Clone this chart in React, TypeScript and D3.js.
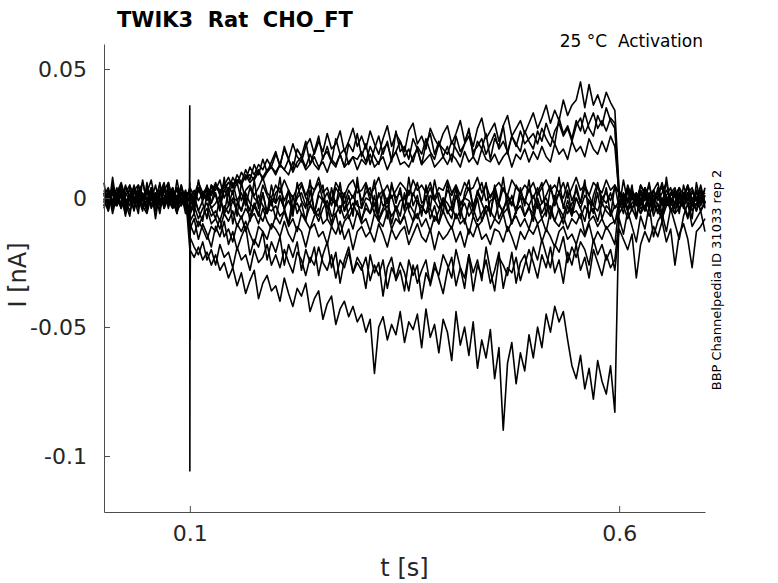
import React, { useEffect, useRef } from 'react';
import * as d3 from 'd3';

// current traces in pA, sampled every 5 ms from 0 to 0.7 s (141 samples)
const sampleTimes = d3.range(0, 141).map(i => +(i * 0.005).toFixed(3));

const baseA = [
    3, -2, 5, 0, -3, 4, 1, -4, 2, 6, -1, 3, -3, 1, 5, -2, 0, 4, -3, 2,
    1, -3, 4, 0, 5, -2, 2, -4, 3, 1, 6, -1, 2, -3, 4, 0, -2, 5, 1, -3,
    2, 4, -1, 3, -4, 1, 5, 0, -2, 3, 6, -1, 2, -3, 4, 1, -2, 3, 0, 5,
    -1, 2, 4, -3, 1, 3, -2, 5, 0, 2, -4, 3, 1, 6, -2, 0, 4, -1, 2, -3,
    3, 1, 5, -2, 0, 4, -3, 2, 6, -1, 1, 3, -2, 4, 0, -3, 5, 2, -1, 3,
    0, 4, -2, 1, 5, -3, 2, 0, 6, -1, 3, -2, 4, 1, -3, 5, 0, 2, -1, 4,
    2, -3, 5, 0, 1, -2, 4, -1, 3, 6, -2, 1, 4, -3, 2, 0, 5, -1, 3, -2, 1
];
const baseB = [
    -1, -5, 2, -3, 1, -6, 0, -2, 3, -4, -1, 2, -5, 0, -3, 1, -4, -2, 2, -6,
    -3, 0, -5, -1, 2, -4, -2, 1, -6, -3, 0, -1, -5, 2, -2, -4, 1, -3, -6, 0,
    -2, 1, -4, -1, -5, 0, 2, -3, -2, -6, 1, -1, -4, 0, -3, 2, -5, -2, 1, -3,
    -4, 0, -1, -6, 2, -3, -2, 1, -5, -1, 0, -4, 2, -2, -3, -6, 1, -1, -4, 0,
    -2, -5, 1, -3, 0, -1, -4, 2, -2, -6, -1, 0, -3, -5, 1, -2, -4, 0, -1, -3,
    1, -4, -2, 0, -5, -1, 2, -3, -6, -2, 0, -4, 1, -1, -3, -5, 0, -2, 2, -4,
    -1, -3, 0, -5, 2, -2, -4, 1, -1, -6, 0, -3, -2, 1, -4, -1, 2, -5, -2, 0, -3
];
const baseC = [
    -3, 1, -4, -2, 3, -1, -5, 0, 2, -3, -6, 1, -2, -4, 0, 3, -1, -5, -2, 1,
    -6, -3, -8, -4, -2, -7, -5, -9, -3, -6, -1, -5, -8, -4, -7, -2, -6, -9, -4, -5,
    -3, -7, -5, -10, -4, -2, -6, -8, -3, -5, -9, -4, -1, -7, -6, -3, -8, -5, -2, -6,
    -8, -4, -6, -2, -9, -5, -3, -7, -4, -10, -6, -2, -5, -8, -3, -6, -4, -9, -5, -1,
    -6, -3, -8, -5, -2, -7, -4, -9, -6, -3, -5, -8, -2, -6, -4, -10, -5, -3, -7, -4,
    -6, -2, -8, -5, -3, -9, -4, -7, -1, -6, -5, -8, -3, -6, -4, -9, -2, -5, -7, -3,
    -4, -1, -5, -2, 0, -4, -3, 1, -2, -5, -1, -3, 0, -4, -2, 2, -3, -1, -5, 0, -2
];
const baseD = [
    1, 4, -2, 2, 6, 0, -3, 3, 5, -1, 2, 7, -2, 1, 4, -4, 3, 0, 5, -1,
    4, 1, 6, 2, -1, 5, 3, 7, 0, 4, 2, 6, -1, 3, 5, 1, 4, 8, 2, 0,
    5, 2, 7, 3, 0, 4, 6, 1, 5, 3, 8, 2, 4, -1, 6, 3, 1, 5, 7, 2,
    3, 6, 1, 4, 8, 2, 5, 0, 3, 6, 4, 1, 7, 3, 5, 2, 6, 0, 4, 3,
    7, 2, 5, 1, 6, 3, 4, 8, 2, 5, 0, 4, 6, 3, 1, 7, 4, 2, 5, 3,
    6, 1, 4, 7, 3, 5, 2, 6, 0, 4, 8, 3, 5, 1, 6, 4, 2, 7, 3, 5,
    2, -1, 4, 1, -2, 3, 0, 5, -1, 2, 4, -2, 1, 3, 0, -3, 2, 4, -1, 1, 3
];
const baseE = [
    -2, 2, -4, 0, 3, -3, 1, -5, 2, -1, -4, 3, 0, -2, 4, -3, 1, -6, 2, -1,
    -9, -6, -11, -7, -4, -10, -8, -12, -6, -9, -5, -11, -7, -13, -8, -6, -10, -4, -9, -12,
    -7, -10, -5, -11, -8, -13, -6, -9, -12, -7, -4, -10, -8, -11, -6, -14, -9, -7, -12, -5,
    -10, -8, -13, -6, -9, -11, -5, -12, -8, -10, -7, -14, -9, -6, -11, -8, -13, -7, -10, -5,
    -9, -12, -6, -10, -8, -14, -7, -11, -9, -5, -12, -8, -10, -6, -13, -9, -7, -11, -8, -12,
    -6, -10, -8, -13, -5, -9, -11, -7, -12, -8, -10, -6, -14, -9, -7, -11, -8, -12, -10, -9,
    -6, -3, -8, -4, -1, -6, -3, -7, -2, -5, -8, -3, -1, -6, -4, -2, -7, -3, 0, -5, -2
];
const baseF = [
    6, -5, 8, -3, 2, -7, 5, 0, -6, 7, -2, 4, -8, 3, -4, 6, -1, -6, 5, -3,
    4, -6, 7, -2, -8, 5, 1, -5, 8, -3, 3, -7, 6, -1, -5, 7, -4, 2, -6, 5,
    -2, 8, -5, 3, -7, 6, -1, -4, 7, -6, 2, 5, -8, 4, -3, 6, -5, 1, -7, 8,
    -4, 5, -1, 7, -6, 3, -8, 6, -2, 4, -5, 8, -3, 1, -7, 5, -4, 7, -1, -6,
    6, -3, 4, -8, 2, 7, -5, 3, -1, 6, -7, 5, -2, 8, -4, 1, -6, 4, -3, 7,
    -5, 2, 6, -7, 4, -1, 8, -4, 3, -6, 5, -2, 7, -8, 1, 6, -3, 4, -7, 5,
    -4, 7, -2, 5, -8, 3, -1, 6, -5, 4, -7, 8, -3, 2, -6, 5, -1, -8, 6, -2, 4
];
const baseG = [
    -4, 3, -6, 1, 5, -2, -7, 4, 0, -5, 6, -3, 2, -6, 4, -1, -4, 7, -2, 3,
    -7, 1, -5, -9, 2, -4, -8, 0, -6, 3, -10, -2, -5, 1, -9, -3, -7, 2, -6, -1,
    -8, 0, -4, -10, 1, -6, -2, -9, 3, -5, -7, 0, -3, -10, -1, -6, 2, -8, -4, -1,
    -9, -2, -6, 1, -8, -4, 0, -10, -3, -7, 2, -5, -9, -1, -6, 1, -8, -3, -10, 0,
    -5, -8, 1, -4, -10, -2, -7, 0, -9, -3, -6, 2, -8, -4, -1, -10, -5, 1, -7, -3,
    -9, 0, -6, -2, -8, 1, -5, -10, -3, -7, 0, -4, -9, -1, -6, 2, -8, -3, -5, -10,
    -1, -6, 3, -4, -8, 0, -5, 2, -7, -2, -9, 1, -4, -6, 2, -3, -8, 0, -5, 3, -4
];
const outwardA = [
    2, -3, 4, 1, -2, 5, 0, -4, 3, 1, -1, 4, -2, 2, 6, -3, 1, 3, -1, 2,
    2, -1, 4, 1, 3, -2, 5, 2, 6, 3, 8, 5, 10, 7, 12, 9, 13, 11, 15, 12,
    17, 13, 19, 15, 21, 16, 14, 20, 23, 17, 22, 18, 25, 19, 21, 26, 18, 22, 27, 20,
    24, 19, 26, 21, 17, 23, 28, 20, 25, 22, 18, 26, 29, 21, 24, 19, 27, 23, 20, 25,
    28, 21, 25, 30, 22, 26, 20, 27, 31, 23, 26, 29, 22, 28, 32, 24, 27, 30, 25, 29,
    33, 27, 31, 36, 29, 34, 30, 38, 32, 36, 38, 45, 35, 44, 36, 40, 35, 41, 37, 34,
    3, -1, 4, 1, -2, 5, 2, -3, 3, 0, 6, -1, 2, 4, -2, 1, 5, -1, 3, 0, 2
];
const outwardB = [
    -1, 3, -2, 2, 5, -3, 1, 4, -1, 2, -4, 3, 0, 5, -2, 1, 3, -3, 2, 0,
    0, 3, -1, 2, 4, 1, 5, 2, 3, 6, 4, 7, 5, 9, 6, 8, 11, 7, 10, 12,
    9, 13, 11, 15, 10, 14, 16, 12, 17, 13, 11, 16, 18, 14, 12, 17, 19, 13, 16, 15,
    18, 14, 20, 16, 13, 19, 21, 15, 18, 22, 16, 19, 14, 20, 17, 23, 18, 15, 21, 19,
    17, 22, 19, 16, 21, 24, 18, 20, 23, 17, 21, 25, 19, 22, 18, 24, 20, 26, 21, 23,
    25, 21, 27, 23, 20, 26, 29, 24, 27, 22, 28, 31, 25, 29, 33, 27, 30, 26, 31, 29,
    -2, 2, -1, 3, 0, -3, 4, 1, -2, 2, 5, -1, 1, 3, -2, 0, 4, -1, 2, -3, 1
];
const outwardC = [
    1, -2, 3, 0, -4, 2, 5, -1, 1, -3, 4, 0, 2, -2, 3, 6, -1, 1, -3, 2,
    2, 0, 3, 1, 4, 2, 5, 3, 4, 6, 5, 7, 6, 8, 9, 7, 10, 8, 11, 12,
    10, 13, 11, 9, 14, 12, 15, 11, 13, 16, 12, 14, 10, 15, 13, 17, 12, 14, 16, 11,
    15, 13, 17, 12, 14, 16, 11, 15, 18, 13, 14, 12, 16, 19, 13, 15, 17, 12, 14, 16,
    13, 17, 15, 12, 18, 14, 16, 13, 19, 15, 14, 17, 13, 16, 18, 12, 17, 15, 19, 14,
    18, 15, 20, 16, 14, 21, 17, 19, 15, 22, 18, 20, 16, 23, 19, 17, 22, 18, 24, 20,
    1, -2, 3, 0, 2, -1, 4, -3, 1, 2, -1, 3, 0, -2, 4, 1, -1, 2, 0, 3, -2
];
const outwardD = [
    -3, 2, -1, 4, -4, 1, 3, -2, 5, 0, -3, 2, -5, 3, 1, -2, 4, -1, 2, -4,
    1, -2, 3, 0, 4, 2, 6, 1, 5, 8, 4, 9, 6, 11, 7, 13, 9, 15, 10, 14,
    18, 12, 20, 15, 11, 19, 16, 22, 13, 18, 24, 15, 20, 14, 23, 17, 12, 21, 18, 25,
    16, 21, 13, 19, 24, 17, 22, 14, 26, 18, 20, 15, 23, 19, 13, 21, 25, 17, 22, 16,
    20, 14, 24, 18, 21, 27, 16, 22, 19, 25, 15, 23, 20, 28, 17, 24, 21, 18, 26, 22,
    19, 26, 22, 29, 24, 21, 31, 25, 28, 23, 30, 26, 33, 27, 24, 32, 28, 35, 30, 27,
    2, -3, 4, 0, -2, 5, 1, -4, 3, -1, 2, 6, -2, 1, 4, -3, 0, 3, -1, 5, -2
];
const inwardA = [
    0, -3, 2, -1, 4, -4, 1, 3, -2, 0, -5, 2, -1, 3, -3, 1, 4, -2, 0, -4,
    -10, -14, -9, -12, -16, -11, -13, -8, -15, -12, -17, -10, -13, -9, -14, -18, -11, -13, -16, -10,
    -12, -15, -9, -14, -17, -11, -13, -19, -12, -10, -15, -13, -18, -11, -14, -9, -16, -12, -20, -13,
    -11, -15, -13, -17, -10, -14, -19, -12, -16, -13, -11, -18, -14, -10, -15, -17, -12, -20, -13, -16,
    -14, -11, -17, -13, -19, -12, -15, -10, -16, -14, -18, -12, -13, -17, -11, -15, -20, -13, -16, -12,
    -14, -10, -17, -12, -15, -19, -13, -11, -16, -14, -18, -12, -15, -10, -17, -13, -16, -11, -14, -18,
    -2, 1, -4, 0, -3, 2, -5, -1, 1, -3, -6, 0, -2, 3, -4, -1, 2, -3, 0, -5, -1
];
const inwardB = [
    1, -2, 4, 0, -3, 2, -1, 5, -2, 1, 3, -4, 0, 2, -1, 4, -3, 1, -2, 3,
    -15, -19, -22, -17, -24, -20, -26, -18, -23, -21, -27, -19, -24, -22, -28, -20, -25, -23, -18, -26,
    -22, -27, -20, -25, -29, -21, -24, -30, -23, -26, -19, -25, -28, -22, -31, -24, -27, -21, -29, -25,
    -28, -23, -32, -26, -30, -24, -35, -27, -31, -25, -29, -36, -26, -33, -28, -24, -34, -27, -30, -22,
    -26, -31, -20, -27, -35, -22, -29, -24, -32, -19, -28, -36, -23, -26, -30, -21, -33, -25, -22, -29,
    -19, -24, -16, -22, -27, -18, -21, -15, -25, -19, -23, -17, -20, -26, -16, -22, -18, -24, -20, -28,
    -12, -16, -20, -14, -31, -18, -13, -17, -11, -15, -9, -17, -12, -26, -14, -10, -16, -27, -13, -11, -8
];
const inwardC = [
    -1, 2, -3, 1, 4, -2, 0, 3, -4, 1, 2, -1, 5, -3, 0, 2, -2, 4, -1, 1,
    -20, -23, -19, -24, -21, -26, -22, -28, -25, -31, -27, -34, -29, -37, -32, -28, -39, -33, -30, -36,
    -34, -40, -31, -37, -42, -35, -38, -33, -44, -39, -36, -47, -41, -38, -49, -43, -40, -46, -42, -48,
    -45, -52, -47, -68, -50, -46, -55, -49, -53, -44, -56, -48, -51, -45, -58, -43, -54, -49, -60, -47,
    -52, -63, -44, -57, -50, -61, -48, -66, -55, -62, -51, -70, -58, -90, -64, -56, -72, -60, -67, -53,
    -62, -50, -58, -45, -52, -42, -48, -44, -55, -65, -70, -61, -74, -66, -78, -63, -71, -76, -65, -83,
    -3, 0, -5, 2, -2, -6, 1, -4, -1, 3, -3, 0, -5, -2, 1, -4, 2, -1, -3, 0, -2
];
const inwardD = [
    2, -4, 5, -1, 3, -6, 0, 4, -3, 1, -5, 3, -2, 6, -4, 0, 2, -5, 4, -1,
    -12, -8, -16, -10, -14, -19, -11, -15, -9, -18, -13, -20, -15, -11, -22, -16, -19, -13, -24, -17,
    -21, -15, -26, -18, -23, -17, -28, -20, -25, -19, -30, -22, -17, -27, -21, -33, -24, -19, -29, -23,
    -26, -35, -22, -29, -25, -38, -27, -23, -32, -28, -36, -24, -30, -26, -39, -29, -33, -25, -31, -37,
    -28, -23, -34, -27, -31, -22, -36, -26, -30, -24, -33, -28, -21, -35, -27, -29, -23, -32, -26, -20,
    -25, -31, -22, -27, -19, -29, -24, -33, -21, -26, -18, -28, -23, -31, -20, -25, -30, -22, -27, -24,
    -8, -14, -5, -11, -17, -7, -12, -3, -15, -9, -6, -13, -4, -10, -16, -7, -2, -11, -8, -5, -13
];

const traces = [
    baseA, baseB, baseC, baseD, baseE, baseF, baseG,
    outwardA, outwardB, outwardC, outwardD,
    inwardA, inwardB, inwardC, inwardD
];

// capacitive transients at the step onset (pA)
const spikeTimes = [0.0996, 0.0999, 0.1, 0.1002, 0.1006];
const spikeA = [2, 36, -106, -40, -22];
const spikeB = [0, 4, -55, -30, -18];
const spikeC = [-2, 3, -46, -20, -8];
const spikeD = [1, 6, -38, -12, -4];
const spikes = [spikeA, spikeB, spikeC, spikeD];

const yTicks = [-100, -50, 0, 50];
const xTicks = [0.1, 0.6];

const title = 'TWIK3  Rat  CHO_FT';
const condition = '25 °C  Activation';
const sourceNote = 'BBP Channelpedia ID 31033 rep 2';

const W = 778;
const H = 583;
const margin = { top: 44, right: 73, bottom: 71, left: 104 };
const font = '"DejaVu Sans", Verdana, sans-serif';

const TraceChart: React.FC = () => {
    const svgRef = useRef<SVGSVGElement>(null);

    useEffect(() => {
        if (!svgRef.current) return;
        const svg = d3.select(svgRef.current);
        svg.selectAll('*').remove();

        const x = d3.scaleLinear().domain([0, 0.7]).range([margin.left, W - margin.right]);
        const y = d3.scaleLinear().domain([-121.7, 59.7]).range([H - margin.bottom, margin.top]);

        const line = d3.line<number>()
            .x((_, i) => x(sampleTimes[i]))
            .y(d => y(d));

        const g = svg.append('g');

        g.selectAll('.trace')
            .data(traces)
            .enter()
            .append('path')
            .attr('class', 'trace')
            .attr('fill', 'none')
            .attr('stroke', '#000')
            .attr('stroke-width', 1.6)
            .attr('stroke-linejoin', 'round')
            .attr('d', d => line(d));

        const spikeLine = d3.line<number>()
            .x((_, i) => x(spikeTimes[i]))
            .y(d => y(d));

        g.selectAll('.spike')
            .data(spikes)
            .enter()
            .append('path')
            .attr('class', 'spike')
            .attr('fill', 'none')
            .attr('stroke', '#000')
            .attr('stroke-width', 1.6)
            .attr('d', d => spikeLine(d));

        // Y axis
        const yAxis = svg.append('g')
            .attr('transform', `translate(${margin.left},0)`)
            .call(d3.axisLeft(y).tickValues(yTicks).tickSize(-6).tickSizeOuter(0).tickPadding(17)
                .tickFormat(d => `${(d as number) / 1000}`));

        // X axis
        const xAxis = svg.append('g')
            .attr('transform', `translate(0,${H - margin.bottom})`)
            .call(d3.axisBottom(x).tickValues(xTicks).tickSize(-6).tickSizeOuter(0).tickPadding(13)
                .tickFormat(d => `${d}`));

        [yAxis, xAxis].forEach(ax => {
            ax.select('.domain').attr('stroke', '#4d4d4d');
            ax.selectAll('.tick line').attr('stroke', '#4d4d4d');
            ax.selectAll('.tick text')
                .attr('fill', '#262626')
                .style('font-family', font)
                .style('font-size', '22px');
        });

        svg.append('text')
            .attr('x', (margin.left + W - margin.right) / 2)
            .attr('y', 576)
            .attr('text-anchor', 'middle')
            .attr('fill', '#262626')
            .style('font-family', font)
            .style('font-size', '24px')
            .text('t [s]');

        svg.append('text')
            .attr('transform', 'translate(26,275) rotate(-90)')
            .attr('text-anchor', 'middle')
            .attr('fill', '#262626')
            .style('font-family', font)
            .style('font-size', '24px')
            .text('I [nA]');

        svg.append('text')
            .attr('x', 117)
            .attr('y', 27)
            .attr('fill', '#000')
            .style('font-family', font)
            .style('font-size', '21px')
            .style('font-weight', 'bold')
            .style('white-space', 'pre')
            .text(title);

        svg.append('text')
            .attr('x', 703)
            .attr('y', 47)
            .attr('text-anchor', 'end')
            .attr('fill', '#000')
            .style('font-family', font)
            .style('font-size', '17px')
            .style('white-space', 'pre')
            .text(condition);

        svg.append('text')
            .attr('transform', 'translate(721,280) rotate(-90)')
            .attr('text-anchor', 'middle')
            .attr('fill', '#000')
            .style('font-family', font)
            .style('font-size', '13px')
            .text(sourceNote);
    }, []);

    return (
        <svg ref={svgRef} width={W} height={H}
            style={{ position: 'absolute', left: 0, top: 0, background: '#fff' }} />
    );
};

export default function App() {
    return <TraceChart />;
}
